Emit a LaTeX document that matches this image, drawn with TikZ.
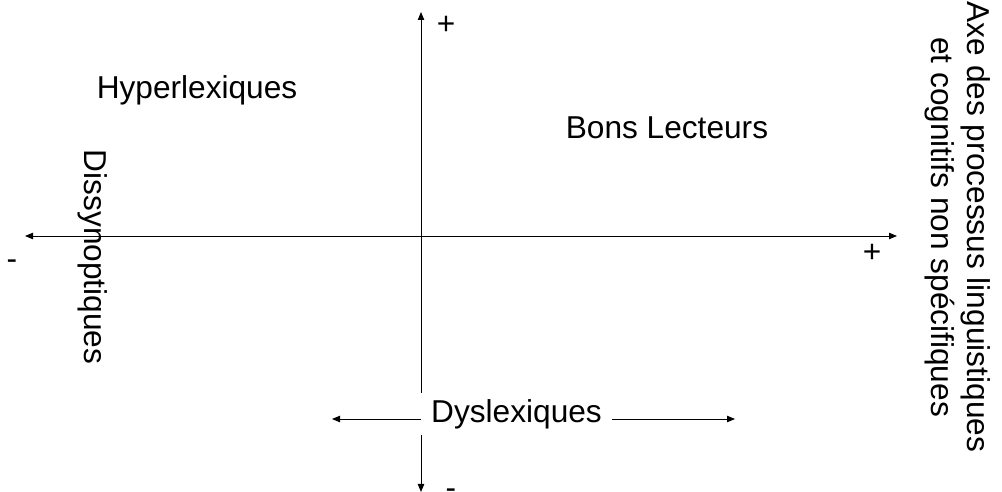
\documentclass[tikz,border=0pt]{standalone}
\usepackage{fontspec}
\setmainfont{Liberation Sans}
\usetikzlibrary{arrows.meta}

\begin{document}
\begin{tikzpicture}[
    x=0.025cm, y=-0.025cm,
    lbl/.style={inner sep=0pt, font=\fontsize{22.5}{25.6}\selectfont},
    arrow/.style={-{Triangle[length=2mm, width=1.6mm]}, line width=0.7pt},
    biarrow/.style={{Triangle[length=2mm, width=1.6mm]}-{Triangle[length=2mm, width=1.6mm]}, line width=0.7pt}
]
\useasboundingbox (0,0) rectangle (1002,492);

\coordinate (west) at (25,236);
\coordinate (east) at (897,236);
\coordinate (north) at (421,12);
\coordinate (south) at (421,492);
\coordinate (dysleft) at (332,419);
\coordinate (dysright) at (735,419);

\node[lbl, anchor=base] (hyper) at (197,99) {Hyperlexiques};
\node[lbl, anchor=base] (bons) at (667,139) {Bons Lecteurs};
\node[lbl, anchor=base, rotate=-90] (dissy) at (85,257) {Dissynoptiques};
\node[lbl, align=center, rotate=-90] (axe) at (958,227) {Axe des processus linguistiques\\et cognitifs non spécifiques};
\node[lbl, minimum width=4.775cm, minimum height=1.05cm] (dys) at (516.5,414) {Dyslexiques};

\node[lbl, anchor=base] (ptop) at (446,35) {+};
\node[lbl, anchor=base] (pright) at (872,263) {+};
\node[lbl, anchor=base] (mleft) at (12,270) {-};
\node[lbl, anchor=base] (mbot) at (451,498.5) {-};

\draw[biarrow] (west) -- (east);
\draw[arrow] (north |- dys.north) -- (north);
\draw[arrow] (south |- dys.south) -- (south);
\draw[arrow] (dys.west |- dysleft) -- (dysleft);
\draw[arrow] (dys.east |- dysright) -- (dysright);
\end{tikzpicture}
\end{document}
